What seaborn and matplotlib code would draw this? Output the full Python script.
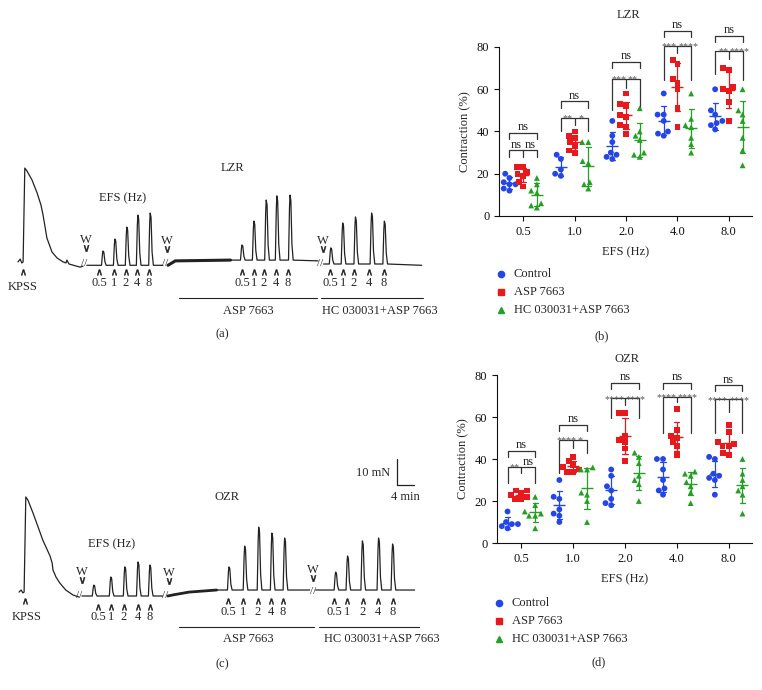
import numpy as np
import pandas as pd
import matplotlib
matplotlib.use("Agg")
import matplotlib.pyplot as plt
import seaborn as sns
from matplotlib.lines import Line2D
from matplotlib.transforms import Affine2D

# --- Contraction (%) per EFS frequency, one list per frequency ---
freqs = ["0.5", "1.0", "2.0", "4.0", "8.0"]
groups = ["Control", "ASP 7663", "HC 030031+ASP 7663"]

lzr_control = [[20, 18, 16, 15, 15, 13, 12], [29, 27, 22, 20, 19],
               [45, 38, 35, 30, 29, 28, 27], [58, 48, 48, 45, 40, 39, 38],
               [60, 50, 48, 45, 44, 43, 41]]
lzr_asp = [[23, 23, 21, 20, 19, 16, 14], [40, 38, 37, 35, 33, 31, 30],
           [58, 53, 52, 48, 47, 43, 42, 39], [74, 72, 65, 63, 60, 51, 42],
           [70, 69, 61, 60, 59, 54, 45]]
lzr_hc = [[18, 15, 12, 11, 6, 5, 4], [35, 35, 26, 25, 16, 15, 13],
          [51, 40, 38, 36, 30, 29, 28], [58, 46, 43, 42, 37, 34, 30],
          [60, 50, 48, 45, 37, 31, 24]]

ozr_control = [[15, 10, 9, 9, 8, 7], [30, 22, 21, 16, 14, 13, 10],
               [35, 32, 27, 25, 21, 19, 18], [40, 40, 35, 30, 26, 25, 23],
               [41, 40, 33, 32, 31, 30, 23]]
ozr_asp = [[25, 25, 24, 23, 22, 21, 21], [41, 39, 37, 36, 35, 34, 34],
           [62, 62, 51, 49, 48, 45, 39], [64, 54, 51, 50, 48, 46, 42],
           [56, 53, 48, 47, 46, 46, 43, 42]]
ozr_hc = [[22, 18, 15, 14, 13, 13, 7], [36, 35, 35, 24, 23, 20, 10],
          [43, 41, 38, 32, 30, 28, 20], [34, 33, 32, 29, 27, 24, 19],
          [40, 33, 30, 27, 25, 23, 14]]

# significance: (Control vs ASP, ASP vs HC); Control vs HC is "ns" everywhere
lzr_stars = [("ns", "ns"), ("**", "*"), ("***", "**"), ("***", "****"), ("**", "****")]
ozr_stars = [("**", "ns"), ("****", "*"), ("****", "****"), ("****", "****"), ("****", "****")]

# --- Tension traces: time (min) and force (mN) ---
lzr_kpss_t = [0, 0.5, 0.9, 1.2, 1.6, 2.1, 3.3, 4.5, 5.4, 5.9, 6.8, 8.0, 9.2,
              10.6, 11.3, 11.5, 12.0, 14.6, 15.3]
lzr_kpss_f = [0.8, 1.9, 0.4, 0.8, 36.9, 35.8, 32.3, 27.3, 22.7, 18.8, 10.0,
              4.6, 2.3, 0.8, 0.4, 1.5, 0, -1.2, -0.8]
lzr_base_t = [[16.2, 34.1], [35.3, 37.0, 50.0, 70.6], [71.9, 95.0]]
lzr_base_f = [[-0.5, -0.5], [-0.5, 1.2, 1.5, 1.2], [0.0, -0.5]]
lzr_peak_t = [[20.0, 22.8, 25.6, 28.2, 31.1], [52.7, 55.5, 58.4, 60.9, 64.0],
              [73.6, 76.4, 79.4, 83.2, 86.2]]
lzr_peak_f = [[5.0, 9.6, 14.2, 18.8, 19.6], [7.3, 16.5, 24.6, 26.2, 26.5],
              [6.2, 15.8, 18.1, 19.6, 16.5]]

ozr_kpss_t = [0, 0.5, 0.9, 1.2, 1.6, 2.1, 3.3, 4.5, 5.6, 7.3, 7.8, 8.0, 8.7,
              9.6, 11.0, 12.7, 14.1]
ozr_kpss_f = [1.5, 2.3, 1.2, 1.5, 38.1, 36.9, 31.9, 26.5, 21.5, 15.4, 12.7,
              10.0, 7.3, 5.0, 2.3, 0.4, -0.4]
ozr_base_t = [[14.8, 33.8], [35.0, 36.5, 40.0, 46.5, 68.4], [69.8, 93.1]]
ozr_base_f = [[0, 0], [0, 0.5, 1.5, 2.3, 2.3], [2.3, 2.3]]
ozr_peak_t = [[17.6, 21.6, 24.9, 28.0, 30.8], [49.4, 53.1, 56.4, 59.5, 62.5],
              [74.5, 77.3, 80.8, 84.6, 87.9]]
ozr_peak_f = [[4.2, 7.3, 11.2, 13.1, 11.9], [11.2, 19.2, 26.5, 24.2, 22.3],
              [9.2, 15.4, 21.2, 22.3, 20.0]]

palette = {"Control": "#2446e6", "ASP 7663": "#e8191c", "HC 030031+ASP 7663": "#23a023"}
marks = ["o", "s", "^"]

sns.set_style("ticks")
plt.rcParams["font.family"] = ["Liberation Serif", "DejaVu Serif"]

W, H = 762, 690
fig = plt.figure(figsize=(W / 100, H / 100), dpi=100)
P = Affine2D().scale(1 / W, -1 / H).translate(0, 1) + fig.transFigure


def px_axes(x, y, w, h):
    return fig.add_axes([x / W, 1 - (y + h) / H, w / W, h / H])


def note(x, y, s, size=9, ha="center", va="center", **kw):
    fig.text(x, y, s, transform=P, fontsize=size, ha=ha, va=va, **kw)


def hline(x0, x1, y):
    fig.add_artist(Line2D([x0, x1], [y, y], transform=P, color="#222", lw=0.8))


def glyph(x, y, m, ms=4):
    fig.add_artist(Line2D([x], [y], transform=P, marker=m, ms=ms, color="#222",
                          ls="none", markeredgewidth=0.4))


# ---------------- trace panels ----------------
shape_dt = [-0.35, -0.12, 0.0, 0.2, 0.45, 0.75]
shape_k = [0.0, 0.8, 1.0, 0.92, 0.25, 0.0]


def segment_df(base_t, base_f, peak_t, peak_f):
    pts = list(zip(base_t, base_f))
    for t, f in zip(peak_t, peak_f):
        b = base_f[np.searchsorted(base_t, t) - 1]
        pts += [(t + d, b + k * (f - b)) for d, k in zip(shape_dt, shape_k)]
    pts.sort()
    return pd.DataFrame(pts, columns=["t", "f"])


def trace_panel(top, height, x0, yb, kpss_t, kpss_f, base_t, base_f, peak_t, peak_f, noise_lw):
    # 4 min = 17 px, 10 mN = 26 px
    ax = px_axes(0, top, 440, height)
    sns.lineplot(x=kpss_t, y=kpss_f, sort=False, estimator=None, color="#222", lw=0.9, ax=ax)
    for i, (bt, bf, pt, pf) in enumerate(zip(base_t, base_f, peak_t, peak_f)):
        seg = segment_df(bt, bf, pt, pf)
        sns.lineplot(data=seg, x="t", y="f", sort=False, estimator=None, color="#222", lw=0.9, ax=ax)
        if i == 1:
            quiet = seg[seg["t"] < pt[0] - 0.5]
            sns.lineplot(data=quiet, x="t", y="f", sort=False, estimator=None, color="#222",
                         lw=noise_lw, ax=ax)
    ax.set_xlim(-x0 * 4 / 17, (440 - x0) * 4 / 17)
    ax.set_ylim((yb - top - height) / 2.6, (yb - top) / 2.6)
    ax.axis("off")
    return ax


def stim_row(xs, y_arrow, y_text):
    for x, lab in zip(xs, ["0.5", "1", "2", "4", "8"]):
        glyph(x, y_arrow, r"$\wedge$")
        note(x, y_text, lab)


def washout(x, y):
    note(x, y, "W")
    glyph(x, y + 8, r"$\vee$", ms=4.5)


# (a) LZR trace
trace_panel(60, 285, 18, 264, lzr_kpss_t, lzr_kpss_f, lzr_base_t, lzr_base_f,
            lzr_peak_t, lzr_peak_f, 2.2)
glyph(23, 272, r"$\wedge$")
note(23, 287, "KPSS")
stim_row([99, 114, 126, 137, 149], 272, 283)
stim_row([242, 254, 264, 276, 288], 272, 283)
stim_row([330, 343, 354, 369, 384], 272, 283)
for x, y in [(86, 240), (167, 241), (323, 241)]:
    washout(x, y)
for x, y in [(84, 264), (165, 263), (320, 263)]:
    note(x, y, "//", size=8)
note(123, 198, "EFS (Hz)")
note(233, 168, "LZR")
hline(179, 317, 298)
hline(321, 423, 298)
note(248, 311, "ASP 7663")
note(380, 311, "HC 030031+ASP 7663")
note(222, 334, "(a)")

# (c) OZR trace
axc = trace_panel(390, 290, 19, 596, ozr_kpss_t, ozr_kpss_f, ozr_base_t, ozr_base_f,
                  ozr_peak_t, ozr_peak_f, 2.0)
glyph(25, 601, r"$\wedge$")
note(27, 617, "KPSS")
stim_row([98, 111, 124, 138, 150], 607, 617)
stim_row([228, 243, 258, 271, 283], 601, 612)
stim_row([334, 347, 363, 378, 393], 601, 612)
for x, y in [(82, 572), (169, 573), (313, 570)]:
    washout(x, y)
for x, y in [(79, 596), (165, 595), (313, 591)]:
    note(x, y, "//", size=8)
note(112, 544, "EFS (Hz)")
note(227, 497, "OZR")
hline(179, 314, 627)
hline(319, 419, 627)
note(248, 639, "ASP 7663")
note(382, 639, "HC 030031+ASP 7663")
note(222, 664, "(c)")
# scale bar: 10 mN by 4 min
axc.plot([88.9, 88.9, 92.9], [52.7, 42.7, 42.7], color="#222", lw=0.9)
note(373, 473, "10 mN")
note(405, 497, "4 min")


# ---------------- dot plots ----------------
def tidy(ctrl, asp, hc):
    rows = []
    for g, series in zip(groups, [ctrl, asp, hc]):
        for f, vals in zip(freqs, series):
            rows += [(f, g, v) for v in vals]
    return pd.DataFrame(rows, columns=["EFS", "group", "value"])


def dot_panel(ax, df, stars, top_y, low_y, legs):
    for g, m in zip(groups, marks):
        sns.swarmplot(data=df[df["group"] == g], x="EFS", y="value", hue="group",
                      order=freqs, hue_order=groups, palette=palette, dodge=True,
                      marker=m, size=4.2, linewidth=0, ax=ax, legend=False)
    sns.pointplot(data=df, x="EFS", y="value", hue="group", order=freqs, hue_order=groups,
                  palette=palette, dodge=0.8 * 2 / 3, errorbar="sd", capsize=0.1,
                  markers="_", markersize=8, markeredgewidth=1.0, linestyle="none",
                  err_kws={"linewidth": 0.9}, ax=ax, legend=False)
    ax.set_ylim(0, 80)
    ax.set_yticks([0, 20, 40, 60, 80])
    ax.set_xlim(-0.47, 4.45)
    ax.set_xlabel("EFS (Hz)", fontsize=9, labelpad=6)
    ax.set_ylabel("Contraction (%)", fontsize=9, labelpad=4)
    ax.tick_params(labelsize=9, length=3.5, width=0.8, colors="#111")
    sns.despine(ax=ax)
    for s in ["left", "bottom"]:
        ax.spines[s].set_linewidth(0.8)
        ax.spines[s].set_color("#111")

    off = 0.8 / 3
    bk = dict(color="#333", lw=0.9, clip_on=False)
    for i, (s1, s2) in enumerate(stars):
        xl, xr = i - off, i + off
        t = top_y[i]
        ax.plot([xl, xl, xr, xr], [t - 3, t, t, t - 3], **bk)
        ax.text(i, t + 1.2, "ns", ha="center", va="baseline", fontsize=9)
        lo = low_y[i]
        lb, lm, lr = legs[i]
        ax.plot([xl, xl, xr, xr], [lb, lo, lo, lr], **bk)
        ax.plot([i, i], [lo, lm], **bk)
        crowded = len(s1) + len(s2) > 5
        spots = [(i - 0.015, s1, "right"), (i + 0.015, s2, "left")] if crowded else \
                [(i - off / 2, s1, "center"), (i + off / 2, s2, "center")]
        for x, s, ha in spots:
            if s == "ns":
                ax.text(x, lo + 1.0, s, ha=ha, va="baseline", fontsize=9)
            else:
                ax.text(x, lo - 1.6, s, ha=ha, va="baseline", fontsize=7.2, color="#555")


def legend_block(x, y0):
    for i, (g, m) in enumerate(zip(groups, marks)):
        fig.add_artist(Line2D([x], [y0 + 18 * i], transform=P, marker=m, ms=4.5,
                              color=palette[g], ls="none"))
        note(x + 13, y0 + 18 * i, g, ha="left")


axb = px_axes(499, 47, 253, 169)
dot_panel(axb, tidy(lzr_control, lzr_asp, lzr_hc), lzr_stars,
          [39.3, 54.3, 72.9, 87.6, 85.2], [31.4, 46.4, 65.0, 80.5, 78.1],
          [[28, 28, 28], [40, 43, 40], [50.4, 60.7, 51.2], [64.6, 77.3, 64.6], [67, 74.4, 64.3]])
note(629, 15, "LZR")
legend_block(501, 274)
note(602, 336, "(b)")

axd = px_axes(497, 375, 255, 168)
dot_panel(axd, tidy(ozr_control, ozr_asp, ozr_hc), ozr_stars,
          [44.0, 56.2, 76.3, 76.3, 75.2], [36.1, 49.1, 68.9, 69.7, 68.4],
          [[28.5, 33.3, 28.5], [33.3, 45.1, 42.8], [59.4, 65.7, 59.4], [52.3, 67.3, 52.3], [52.3, 62.6, 52.6]])
note(627, 359, "OZR")
legend_block(499, 603)
note(599, 662, "(d)")

fig.savefig("out.png", dpi=100)
